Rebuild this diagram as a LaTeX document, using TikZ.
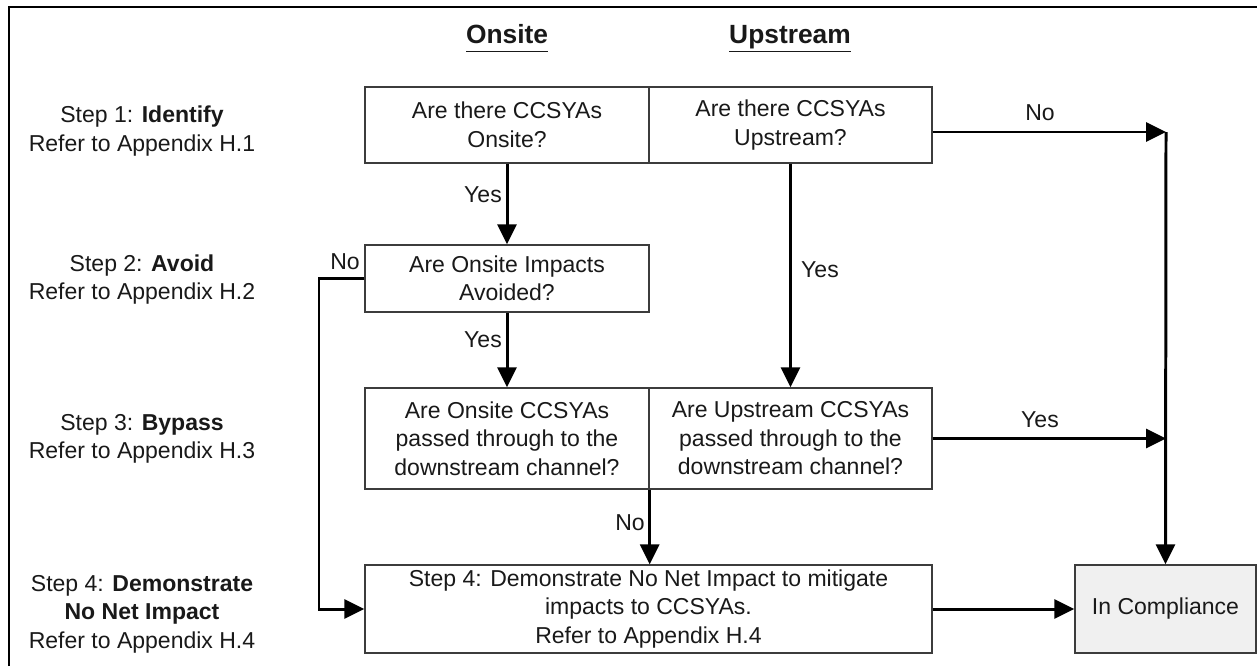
\documentclass[tikz,border=0pt]{standalone}
\usepackage{fontspec}
\setmainfont{Liberation Sans}
\usepackage{tikz}
\usetikzlibrary{arrows.meta,positioning}
\usepackage{xcolor}
\definecolor{boxgray}{RGB}{60,60,60}
\definecolor{txtgray}{RGB}{25,25,25}
\definecolor{compfill}{RGB}{240,240,240}
\newcommand{\dfont}{\fontsize{13.1pt}{16.2pt}\selectfont}
\tikzstyle{qbox} = [draw=boxgray, line width=0.8pt, align=center, text=txtgray, inner sep=0pt, font=\dfont]
\tikzstyle{arrow} = [line width=1.7pt, -{Triangle[length=0.4cm,width=0.38cm]}]
\tikzstyle{lbl} = [text=txtgray, inner sep=0pt, font=\dfont]
\tikzstyle{steplbl} = [text=txtgray, align=center, inner sep=0pt, font=\dfont]
\tikzstyle{head} = [text=txtgray, inner sep=0pt, anchor=base, font=\fontsize{15pt}{18pt}\selectfont]

\begin{document}
\begin{tikzpicture}[x=0.02cm, y=-0.02cm]
\useasboundingbox (0,0) rectangle (1257,666);
% Frame
\draw[line width=1.7pt] (9,666) -- (9,7) -- (1257,7);

% Column headings
\node[head] (hon) at (507,43) {\underline{\textbf{Onsite}\vphantom{p}}};
\node[head] (hup) at (790,43) {\underline{\textbf{Upstream}}};

% Step labels
\node[steplbl] (s1) at (142,131) {Step 1: \textbf{Identify}\\Refer to Appendix H.1};
\node[steplbl] (s2) at (142,279.5) {Step 2: \textbf{Avoid}\\Refer to Appendix H.2};
\node[steplbl] (s3) at (142,439) {Step 3: \textbf{Bypass}\\Refer to Appendix H.3};
\node[steplbl] (s4) at (142,614) {Step 4: \textbf{Demonstrate}\\\textbf{No Net Impact}\\Refer to Appendix H.4};

% Boxes
\node[qbox, minimum width=5.68cm, minimum height=1.52cm] (idon) at (507,125) {Are there CCSYAs\\Onsite?};
\node[qbox, minimum width=5.66cm, minimum height=1.52cm] (idup) at (790.5,125) {Are there CCSYAs\\Upstream?};
\node[qbox, minimum width=5.68cm, minimum height=1.34cm] (avoid) at (507,278.5) {Are Onsite Impacts\\Avoided?};
\node[qbox, minimum width=5.68cm, minimum height=2.02cm] (bpon) at (507,438.5) {Are Onsite CCSYAs\\passed through to the\\downstream channel?};
\node[qbox, minimum width=5.66cm, minimum height=2.02cm] (bpup) at (790.5,438.5) {Are Upstream CCSYAs\\passed through to the\\downstream channel?};
\node[qbox, minimum width=11.34cm, minimum height=1.76cm] (demo) at (648.5,609) {Step 4: Demonstrate No Net Impact to mitigate\\impacts to CCSYAs.\\Refer to Appendix H.4};
\node[qbox, fill=compfill, minimum width=3.62cm, minimum height=1.76cm] (comp) at (1165.5,609) {In Compliance};

% Junctions
\coordinate (jn) at (1166,132);
\coordinate (jl) at (319,280);

% Connectors
\draw[arrow] (idon) -- (avoid);
\draw[arrow] (avoid) -- (bpon);
\draw[arrow] (idup) -- (bpup);
\draw[arrow] (idup.east |- jn) -- (jn);
\draw[arrow] (jn) -- (comp.north);
\draw[arrow] (bpup.east) -- (bpup.east -| jn);
\draw[arrow] (bpon.south east) -- (bpon.south east |- demo.north);
\draw[arrow] (avoid.west) -- (avoid.west -| jl) |- (demo.west);
\draw[arrow] (demo) -- (comp);

% Connector labels
\node[lbl] (yes1) at (483,195) {Yes};
\node[lbl] (yes2) at (483,340) {Yes};
\node[lbl] (yes3) at (820,270) {Yes};
\node[lbl] (yes4) at (1040,420) {Yes};
\node[lbl] (no1) at (1040,113) {No};
\node[lbl] (no2) at (630,523) {No};
\node[lbl] (no3) at (345,262) {No};
\end{tikzpicture}
\end{document}
